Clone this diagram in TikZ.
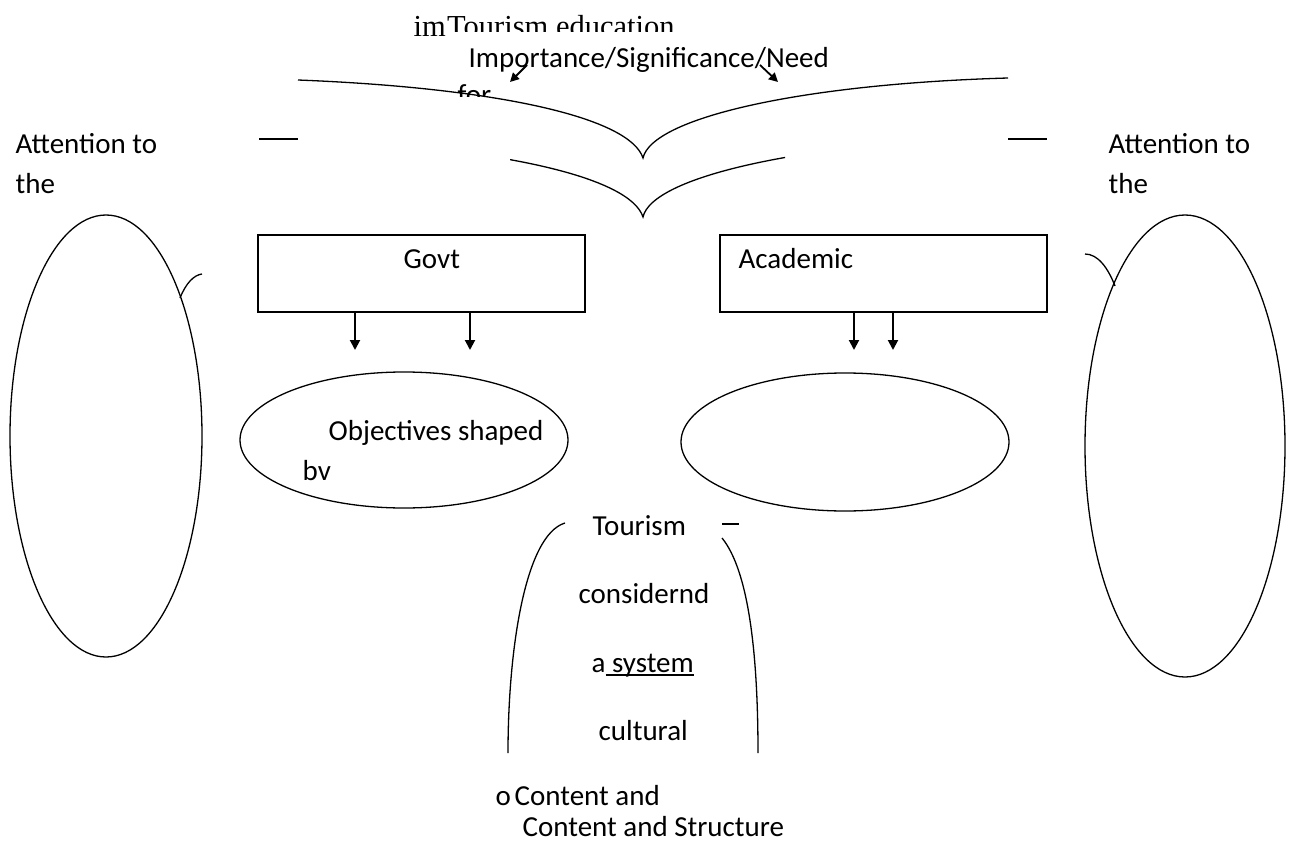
\documentclass[tikz,border=0pt]{standalone}
\usepackage{fontspec}
\setmainfont{Carlito}
\newfontfamily\timesfont{Liberation Serif}
\usetikzlibrary{shapes.geometric,arrows.meta}
\newsavebox\lowbox
\newcommand\lowrule[1]{\sbox\lowbox{#1}\rlap{\rule[-4pt]{\wd\lowbox}{1.8pt}}\usebox\lowbox}

\begin{document}
\begin{tikzpicture}[x=1pt,y=-1pt,line width=1.3pt,
  txt/.style={inner sep=0pt,anchor=base west,font=\fontsize{29}{35}\selectfont},
  serif/.style={inner sep=0pt,anchor=base west,font=\fontsize{30.5}{36}\selectfont\timesfont},
  box/.style={draw,line width=2pt,minimum width=327pt,minimum height=77pt,inner sep=0pt},
  oval/.style={draw,ellipse,inner sep=0pt},
  arr/.style={line width=2pt,-{Triangle[length=10pt,width=10pt]}},
  darr/.style={line width=1.8pt,-{Triangle[length=9pt,width=9pt]}}]
\clip (0,0) rectangle (1294,843);
\def\vbrace{(298,80) .. controls (500,88) and (630,118) .. (643,158) .. controls (652,118) and (800,84) .. (1008,78)}

\node[serif] (im) at (413,37) {im};
\begin{scope}
\clip (440,0) rectangle (720,32);
\node[serif] (tourEdu) at (im.base east) {Tourism education};
\end{scope}
\node[txt] (imp) at (468,67) {Importance/Significance/Need};
\begin{scope}
\clip (440,70) rectangle (500,97);
\node[txt] (forTxt) at (457,104) {for};
\end{scope}

\draw \vbrace;
\begin{scope}
\clip (510,140) rectangle (785,230);
\draw[yshift=-59pt] \vbrace;
\end{scope}
\draw (259,139) -- (298,139);
\draw (1008,139) -- (1047,139);

\coordinate (impL) at (527,65);
\coordinate (impLtip) at (510,82);
\coordinate (impR) at (760,65);
\coordinate (impRtip) at (778,82);
\draw[darr] (impL) -- (impLtip);
\draw[darr] (impR) -- (impRtip);

\node[txt] (attLa) at (15,153) {Attention to};
\node[txt] (attLb) at (15,193) {the};
\node[txt] (attRa) at (1108,153) {Attention to};
\node[txt] (attRb) at (1108,193) {the};

\node[oval,minimum width=192pt,minimum height=442pt] (ovL) at (106,436) {};
\node[oval,minimum width=200pt,minimum height=462pt] (ovR) at (1185,446) {};
\draw (180,298) .. controls (186,283) and (194,275) .. (202,274);
\draw (1085,254) .. controls (1098,254) and (1108,268) .. (1115,286);

\node[box] (govt) at (421.5,273.5) {};
\node[txt] (govtTxt) at (403,268) {Govt};
\node[box] (acad) at (883.5,273.5) {};
\node[txt] (acadTxt) at (738,268) {Academic};
\foreach \x/\n in {355/a,470/b} {\coordinate (g\n) at (\x,350); \draw[arr] (govt.south -| g\n) -- (g\n);}
\foreach \x/\n in {854/a,893/b} {\coordinate (k\n) at (\x,350); \draw[arr] (acad.south -| k\n) -- (k\n);}

\node[oval,minimum width=328pt,minimum height=136pt] (objGovt) at (404,440) {};
\node[txt] (objTxt) at (328,440) {Objectives shaped};
\node[txt] (bvTxt) at (302,480) {bv};
\node[oval,minimum width=328pt,minimum height=138pt] (objAcad) at (845,442) {};

\draw (565,523) .. controls (525,535) and (508,650) .. (508,753);
\draw (722,538) .. controls (748,570) and (758,650) .. (758,753);
\draw (722,524) -- (739,524);
\node[txt] (tour) at (592,535) {Tourism};
\node[txt] (consid) at (578,603) {considernd};
\node[txt] (aSys) at (591,672) {a\lowrule{\ system}};
\node[txt] (cult) at (598,740) {cultural};
\node[txt] (bullet) at (495,805) {o};
\node[txt] (contA) at (514,805) {Content and};
\node[txt] (contB) at (522,836) {Content and Structure};
\end{tikzpicture}
\end{document}
